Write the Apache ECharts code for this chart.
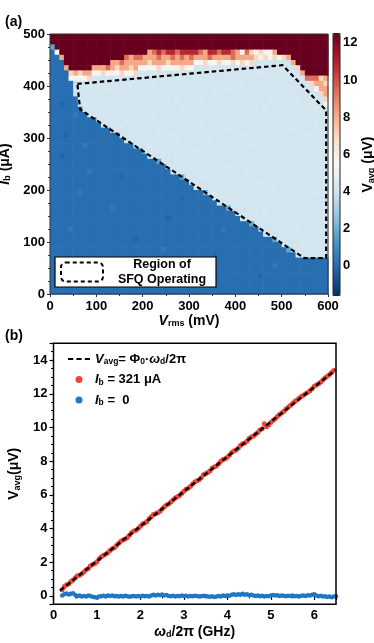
<!DOCTYPE html>
<html><head><meta charset="utf-8">
<script src="https://cdn.jsdelivr.net/npm/echarts@6/dist/echarts.min.js"></script>
<style>html,body{margin:0;padding:0;background:#fff}#c{width:374px;height:643px}</style>
</head><body><div id="c"></div>
<script>
// ---------- Panel (a) data ----------
const vrmsBins = [0,10,20,30,40,50,60,70,80,90,100,110,120,130,140,150,160,170,180,190,200,210,220,230,240,250,260,270,280,290,300,310,320,330,340,350,360,370,380,390,400,410,420,430,440,450,460,470,480,490,500,510,520,530,540,550,560,570,580,590];
const ibBins = [0,10,20,30,40,50,60,70,80,90,100,110,120,130,140,150,160,170,180,190,200,210,220,230,240,250,260,270,280,290,300,310,320,330,340,350,360,370,380,390,400,410,420,430,440,450,460,470,480,490];
// level codes -> V_avg (uV)
const levelValues = {R:12.5, r:10.8, o:9.4, s:8.2, p:7.0, w:5.6, k:4.3, l:4.1, j:3.8, m:1.8, c:0.4, b:0.1, a:-0.2};
// rows from Ib = 490 (top) down to Ib = 0 (bottom), 60 Vrms columns each
const heatRows = [
"RRRRRRRRRR RRRRRRRRRR RRRRRRRRRR RRRRRRRRRR RRRRRRRRRR RRRRRRRRRR",
"RRRRRRRRRR RRRRRRRRRR RRRRRRRRRR RRRRRRRRRR RRRRRRRRRR RRRRRRRRRR",
"mRRRRRRRRR RRRRRRRRRR RRRRRRRRRR RRRRRRRRRR RRRRRRRRRR RRRRRRRRRR",
"bwRRRRRRRR RRRRRRRRRR Rsororrorr rrosrrorro swopwpwwsR RRRRRRRRRR",
"bbsRRRRRRR RRRRRRosoo sssossosos osssosssso sssspwpwpw psRRRRRRRR",
"bbbRRRRRRR RRRssossss spssspssss swwpwwpwwp wpwpllklll llsRRRRRRR",
"bbbsRRRRRs ssospsspsw wwwpwwwwpw wlllklllll llllllklll lllpRRRRRR",
"bbbbpspssw wpwwwpwwpl llklllllkl lllkllllll lllllkllll llllsRRRRR",
"bbbbwwwwpl llllklllll lllllllkll lklllllllk llllllllll lllllooops",
"bbbbbjllll lllllllkll llklllllll llllllklll lkllllllll llllllpssp",
"bbbbblllll llklllllll lllllkllll llllllllkl llllklllll lllllllwss",
"bbbbbllkll llllllllkl lkllllllll lllllkllll llllllllkl llllllllps",
"bbbbbbllll lkllllllll lllllllkll llklllllll lllllllkll lllklllllp",
"bbabbblkll llllllllll lkllllllll lllllkllll llklllllll lllllllllw",
"bbbbbbblll llllklllll llllllllkl lkllllllll llllllklll lllllllkll",
"bbbbbcbbll lllllllkll llklllllll llllllllll lllkllllll llllllllll",
"bbbbbbbbbb llllllklll llllklllll lllllllkll llllllllll lkllllllll",
"bbbbbbbbbb bllllkllll llllllllll llklllllll lllllkllll lllllllkll",
"bbbbbbbbbb bbblllllll lllkllllll llllllllkl llllllllll llklllllll",
"bbbabbbbbb bbbbblllll llllllklll llllllllll lkllllllll lllllkllll",
"bbbbbbbbbb bbbbbbllll lllllllkll llllklllll llllllllkl llllllllll",
"bbbbbbbcbb bbbbbbbbll lkllllllll llllllllll lllkllllll llllllklll",
"bbbbbbbbbb bbbbbbbbbb llllllllkl lkllllllll llllllllll lllllllkll",
"bbabbbbbbb bbbbbbbbbb bllllllkll llllllllll llllklllll llllllllll",
"bbbbbbbbbb bbbbbbbbbb bbbmllllll llllklllll llllllllll lkllllllll",
"bbbbbbbbbb bbbbbbbbbb bbbbblllll llllllllkl llllllllll llllllklll",
"bbbbbbbbcb bbbbbbbbbb bbbbbbllll llllllllll llklllllll llllllllll",
"bbbbbbbbbb bbbbbabbbb bbbbbbbbml lllkllllll llllllllll llllklllll",
"bbbbbbbbbb bbbbbbbbbb bbbbbbbbbb llllllllll lllllkllll llllllllll",
"bbbbbbbbbb bbbbbbbbbb bbbbbbbbbb blllllllll llllllllkl llklllllll",
"bbbbbbcbbb bbbbbbbbbb bbbbbbbbbb bbbmllllll llllllllll lllllllkll",
"bbbbbbbbbb bbbbbbbbbb bbbbbbbbab bbbbbllkll llllllllll llllllllll",
"bbbbbbbbbb bbbbbbbbbb bbbbbbbbbb bbbbbbllll llllklllll llllllllll",
"bbbbbbbbbb bbbcbbbbbb bbbbbbbbbb bbbbbbbbml llllllllll lkllllllll",
"bbbbbbbbbb bbbbbbbbbb bbbbbbbbbb bbbbbbbbbb llllllklll llllllllll",
"bbbbbbbbbb bbbbbbbbbb bbbbbabbbb bbbbbbbbbb blllllllll llllllllkl",
"bbbbbbbbbb bbbbbbbbbb bbbbbbbbbb bbbbbbbbbb bbbmllllll llllllllll",
"bbbbcbbbbb bbbbbbbbbb bbbbbbbbbb bbbbbbbcbb bbbbblllll lllkllllll",
"bbbbbbbbbb bbbbbbbbbb bbbbbbbbbb bbbbbbbbbb bbbbbbllll llllllllll",
"bbbbbbbbbb bbbbbbbbab bbbbbbbbbb bbbbbbbbbb bbbbbbbbml llllllllll",
"bbbbbbbbbb bbbbbbbbbb bbbbbbbbbb bbbbbbbbbb bbbbbbbbbb llllklllll",
"bbbbbbbbbb bbbbbbbbbb bbbbcbbbbb bbbbbbbbbb bbbbbbbbbb bmllllllll",
"bbbbbbbbbb bbbbbbbbbb bbbbbbbbbb bbbbbabbbb bbbbbbbbbb bbblllllll",
"bbbbbbbbbb bbbbbbcbbb bbbbbbbbbb bbbbbbbbbb bbbbbbbbbb bbbbbbbbbb",
"bbbbbbbbbb bbbbbbbbbb bbbabbbbbb bbbbbbbbbb bbbbbbbbcb bbbbbbbbbb",
"bbbbbbbbbb bbbbbbbbbb bbbbbbbbbb bbbbbbbbbb bbbbbbbbbb bbbbbbbbbb",
"bbbbbbbbbb bbcbbbbbbb bbbbbbbbbb bbbbbbbbbb bbbbbabbbb bbbbbbbbbb",
"bbbbbbbbbb bbbbbbbbbb bbbbbbbbbb bbbbbbbbbb bbbbbbbbbb bbbbbbbbbb",
"bbbbbbbbbb bbbbbbbbbb bbbbbbbbbb bbbcbbbbbb bbbbbbbbbb bbbbbbbbbb",
"bbbbbbbbbb bbbbbbbbbb bbbbbbbbbb bbbbbbbbbb bbbbbbbbbb bbbbbbbbbb"
];
const sfqRegion = [[59,404],[502,440],[596,353],[596,69],[549,69],[65,355],[59,404]];
const cbarMin = -1.6, cbarMax = 12.5;
const rdbu = ['#053061','#2166ac','#4393c3','#92c5de','#d1e5f0','#f7f7f7','#fddbc7','#f4a582','#d6604d','#b2182b','#67001f'];

// ---------- Panel (b) data ----------
const freqGHz = [0.2,0.25,0.3,0.35,0.4,0.45,0.5,0.55,0.6,0.65,
0.7,0.75,0.8,0.85,0.9,0.95,1,1.05,1.1,1.15,
1.2,1.25,1.3,1.35,1.4,1.45,1.5,1.55,1.6,1.65,
1.7,1.75,1.8,1.85,1.9,1.95,2,2.05,2.1,2.15,
2.2,2.25,2.3,2.35,2.4,2.45,2.5,2.55,2.6,2.65,
2.7,2.75,2.8,2.85,2.9,2.95,3,3.05,3.1,3.15,
3.2,3.25,3.3,3.35,3.4,3.45,3.5,3.55,3.6,3.65,
3.7,3.75,3.8,3.85,3.9,3.95,4,4.05,4.1,4.15,
4.2,4.25,4.3,4.35,4.4,4.45,4.5,4.55,4.6,4.65,
4.7,4.75,4.8,4.85,4.9,4.95,5,5.05,5.1,5.15,
5.2,5.25,5.3,5.35,5.4,5.45,5.5,5.55,5.6,5.65,
5.7,5.75,5.8,5.85,5.9,5.95,6,6.05,6.1,6.15,
6.2,6.25,6.3,6.35,6.4,6.45,6.5];
const vRed = [0.36,0.55,0.66,0.70,0.86,0.95,1.07,1.20,1.22,1.31,
1.42,1.55,1.63,1.79,1.86,1.93,2.03,2.20,2.33,2.41,
2.47,2.56,2.70,2.80,2.86,2.99,3.13,3.24,3.34,3.38,
3.47,3.62,3.76,3.85,3.90,4.00,4.13,4.27,4.33,4.42,
4.58,4.70,4.83,4.88,4.93,5.02,5.16,5.30,5.40,5.46,
5.57,5.70,5.82,5.88,5.96,6.08,6.22,6.33,6.39,6.50,
6.64,6.76,6.83,6.90,7.02,7.19,7.26,7.33,7.42,7.58,
7.66,7.72,7.85,7.99,8.10,8.15,8.24,8.37,8.51,8.60,
8.66,8.77,8.93,9.03,9.08,9.18,9.34,9.44,9.50,9.60,
9.71,9.85,9.93,10.22,10.05,10.15,10.30,10.41,10.52,10.66,
10.77,10.86,10.97,11.10,11.20,11.31,11.42,11.55,11.64,11.74,
11.84,11.92,12.00,12.08,12.18,12.30,12.45,12.53,12.60,12.70,
12.84,12.95,13.05,13.15,13.26,13.38];
const vBlue = [0.02,0.10,0.14,0.08,0.12,0.15,0.05,-0.02,0.03,-0.04,
0.00,-0.03,0.02,-0.01,-0.05,-0.08,-0.10,-0.04,-0.02,0.01,
-0.03,0.02,-0.01,0.03,-0.02,0.00,-0.04,-0.01,-0.03,0.01,
-0.02,-0.05,-0.02,0.00,-0.03,-0.01,-0.04,0.01,-0.02,0.00,
-0.03,0.02,0.06,0.03,0.07,0.04,0.08,0.02,0.05,0.00,
-0.02,0.01,-0.03,0.00,-0.02,0.02,-0.01,0.01,-0.03,0.00,
-0.02,0.01,-0.01,-0.04,-0.02,0.01,0.00,-0.03,-0.05,-0.02,
-0.06,-0.03,0.00,-0.04,0.02,-0.01,0.03,0.01,0.06,0.09,
0.05,0.10,0.07,0.12,0.06,0.09,0.04,0.07,0.02,-0.01,
0.03,-0.02,0.01,-0.03,0.00,-0.02,0.02,0.05,0.02,0.04,
0.00,0.03,0.01,-0.02,0.01,-0.01,0.02,-0.02,0.00,-0.03,
0.01,0.03,0.00,0.04,0.02,0.07,0.09,0.03,-0.02,0.01,
-0.04,-0.02,-0.06,-0.03,-0.08,-0.04,-0.02];
const phiLine = [[0.15,0.31],[6.5,13.44]];

// ---------- build ----------
const FF = "'Liberation Sans', Arial, sans-serif";
const heatData = [];
heatRows.forEach((row, r) => {
  const s = row.replace(/ /g, '');
  const j = ibBins.length - 1 - r;
  vrmsBins.forEach((x, i) => {
    const ch = s[Math.min(i, s.length - 1)];
    heatData.push([x, ibBins[j], levelValues[ch]]);
  });
});
const redData = vRed.map((v, k) => [freqGHz[k], v]);
const blueData = vBlue.map((v, k) => [freqGHz[k], v]);

const B = {fontWeight: 'bold', fontFamily: FF, color: '#000'};
const richName = {
  i: Object.assign({}, B, {fontStyle: 'italic', fontSize: 14}),
  n: Object.assign({}, B, {fontSize: 14}),
  s: Object.assign({}, B, {fontSize: 9, padding: [6, 0, 0, 0]})
};
const even = v => (Math.abs(v - Math.round(v)) < 1e-6 && Math.round(v) % 2 === 0) ? String(Math.round(v)) : '';
const intOnly = v => (Math.abs(v - Math.round(v)) < 1e-6) ? String(Math.round(v)) : '';
const legendLabels = {
  phi: '{i|V}{s|avg}{n|= Φ}{s|0}{n|·}{i|ω}{s|d}{n|/2π}',
  on: '{i|I}{s|b}{n| = 321 μA}',
  off: '{i|I}{s|b}{n| =  0}'
};
const richLeg = {
  i: Object.assign({}, B, {fontStyle: 'italic', fontSize: 13}),
  n: Object.assign({}, B, {fontSize: 13}),
  s: Object.assign({}, B, {fontSize: 8.5, padding: [6, 0, 0, 0]})
};

const chart = echarts.init(document.getElementById('c'), null, {renderer: 'canvas'});
chart.setOption({
  animation: false,
  textStyle: {fontFamily: FF},
  title: [
    {text: '(a)', left: 5, top: 15, padding: 0, textStyle: {fontSize: 14, fontWeight: 'bold', fontFamily: FF, color: '#000'}},
    {text: '(b)', left: 5, top: 329, padding: 0, textStyle: {fontSize: 14, fontWeight: 'bold', fontFamily: FF, color: '#000'}}
  ],
  grid: [
    {left: 50, top: 34, width: 278, height: 260, outerBoundsMode: 'none', containLabel: false, show: true, z: 10, backgroundColor: 'rgba(0,0,0,0)', borderColor: '#333', borderWidth: 1},
    {left: 333, top: 33.5, width: 7, height: 262, outerBoundsMode: 'none', containLabel: false, show: true, z: 10, backgroundColor: 'rgba(0,0,0,0)', borderColor: '#222', borderWidth: 1},
    {left: 53.5, top: 343.3, width: 282.5, height: 261, outerBoundsMode: 'none', containLabel: false, show: true, z: 10, backgroundColor: 'rgba(0,0,0,0)', borderColor: '#000', borderWidth: 1.5}
  ],
  xAxis: [
    {gridIndex: 0, type: 'value', min: 0, max: 600, interval: 100, splitLine: {show: false},
     axisLine: {show: false}, axisTick: {length: 3, lineStyle: {color: '#333'}},
     minorTick: {show: true, splitNumber: 2, length: 2, lineStyle: {color: '#333'}},
     axisLabel: Object.assign({}, B, {fontSize: 13, margin: 6}),
     name: '{i|V}{s|rms}{n| (mV)}', nameLocation: 'middle', nameGap: 17, nameTextStyle: {rich: richName}},
    {gridIndex: 1, type: 'value', min: 0, max: 1, show: false},
    {gridIndex: 2, type: 'value', min: 0, max: 6.5, interval: 1, splitLine: {show: false},
     axisLine: {show: false}, axisTick: {length: 4, lineStyle: {color: '#000', width: 1.2}},
     minorTick: {show: true, splitNumber: 2, length: 2.5, lineStyle: {color: '#000'}},
     axisLabel: Object.assign({}, B, {fontSize: 13, margin: 5, formatter: intOnly}),
     name: '{i|ω}{s|d}{n|/2π (GHz)}', nameLocation: 'middle', nameGap: 20, nameTextStyle: {rich: richName}}
  ],
  yAxis: [
    {gridIndex: 0, type: 'value', min: 0, max: 500, interval: 100, splitLine: {show: false},
     axisLine: {show: false}, axisTick: {length: 3, lineStyle: {color: '#333'}},
     minorTick: {show: true, splitNumber: 4, length: 2, lineStyle: {color: '#333'}},
     axisLabel: Object.assign({}, B, {fontSize: 13, margin: 5}),
     name: '{i|I}{s|b}{n| (μA)}', nameLocation: 'middle', nameRotate: 90, nameGap: 28, nameTextStyle: {rich: richName}},
    {gridIndex: 1, type: 'value', position: 'right', min: cbarMin, max: cbarMax, splitNumber: 7,
     splitLine: {show: false}, axisLine: {show: false}, axisTick: {show: false},
     axisLabel: Object.assign({}, B, {fontSize: 13, margin: 3, formatter: even}),
     name: '{n|V}{s|avg}{n| (μV)}', nameLocation: 'middle', nameRotate: 90, nameGap: 17, nameTextStyle: {rich: richName}},
    {gridIndex: 2, type: 'value', min: -0.5, max: 15, splitNumber: 8, splitLine: {show: false},
     axisLine: {show: false}, axisTick: {length: 4, lineStyle: {color: '#000', width: 1.2}},
     minorTick: {show: true, splitNumber: 4, length: 2.5, lineStyle: {color: '#000'}},
     axisLabel: Object.assign({}, B, {fontSize: 13, margin: 6, formatter: even}),
     name: '{n|V}{s|avg}{n|(μV)}', nameLocation: 'middle', nameRotate: 90, nameGap: 27, nameTextStyle: {rich: richName}}
  ],
  visualMap: {
    type: 'continuous', min: cbarMin, max: cbarMax, dimension: 2, seriesIndex: 0,
    calculable: false, hoverLink: false, left: 333, top: 33.5, itemWidth: 7, itemHeight: 262, padding: 0,
    text: null, inRange: {color: rdbu}
  },
  legend: [
    {data: ['sfq'], left: 55, top: 257, padding: [1, 0, 1, 5], backgroundColor: '#fff', borderColor: '#000', borderWidth: 1.2,
     itemWidth: 42, itemHeight: 19, icon: 'roundRect', selectedMode: false,
     itemStyle: {color: 'rgba(0,0,0,0)', borderColor: '#000', borderWidth: 2, borderType: [4, 3]},
     formatter: () => '{t|Region of}\n{t|SFQ Operating}',
     textStyle: {rich: {t: Object.assign({}, B, {fontSize: 12.5, width: 108, align: 'center', lineHeight: 15})}}},
    {data: [{name: 'phi', icon: 'path://M0,0H5V2H0Z M8,0H13V2H8Z M16,0H21V2H16Z'}, 'on', 'off'],
     orient: 'vertical', left: 68, top: 352.5, padding: 0, itemGap: 6.5,
     itemWidth: 22, itemHeight: 7, selectedMode: false,
     formatter: name => legendLabels[name],
     textStyle: {rich: richLeg}}
  ],
  series: [
    {type: 'custom', name: 'heat', xAxisIndex: 0, yAxisIndex: 0, data: heatData, silent: true, clip: true,
     dimensions: ['x', 'y', 'v'], encode: {x: 0, y: 1},
     renderItem: function (params, api) {
       const x = api.value(0), y = api.value(1);
       const p0 = api.coord([x, y + 10]);
       const p1 = api.coord([x + 10, y]);
       return {type: 'rect', shape: {x: p0[0], y: p0[1], width: p1[0] - p0[0] + 0.6, height: p1[1] - p0[1] + 0.6},
               style: {fill: api.visual('color')}};
     }},
    {type: 'line', name: 'sfq', xAxisIndex: 0, yAxisIndex: 0, data: sfqRegion, symbol: 'none', z: 5, clip: false,
     lineStyle: {color: '#000', width: 2.2, type: [4.5, 3]}},
    {type: 'scatter', name: 'on', xAxisIndex: 2, yAxisIndex: 2, data: redData, symbolSize: 5,
     itemStyle: {color: '#ee4536', opacity: 1}},
    {type: 'scatter', name: 'off', xAxisIndex: 2, yAxisIndex: 2, data: blueData, symbolSize: 4.5,
     itemStyle: {color: '#1f78c1', opacity: 1}},
    {type: 'line', name: 'phi', xAxisIndex: 2, yAxisIndex: 2, data: phiLine, symbol: 'none', z: 5,
     itemStyle: {color: '#000'}, lineStyle: {color: '#000', width: 2.4, type: [5, 3]}}
  ]
});
</script></body></html>
